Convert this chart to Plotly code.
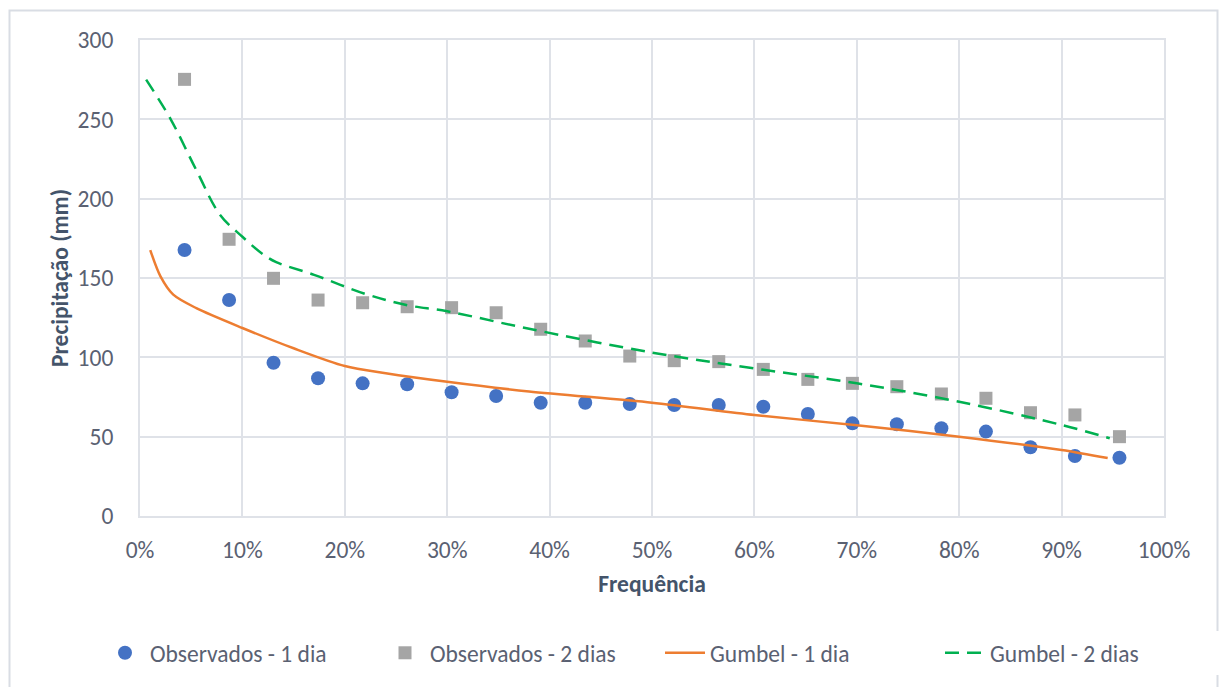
import plotly.graph_objects as go

# Plotting positions (k / (n + 1)) for the 22 observed annual maxima
freq_obs = [0.0435, 0.0870, 0.1304, 0.1739, 0.2174, 0.2609, 0.3043, 0.3478,
            0.3913, 0.4348, 0.4783, 0.5217, 0.5652, 0.6087, 0.6522, 0.6957,
            0.7391, 0.7826, 0.8261, 0.8696, 0.9130, 0.9565]

obs_1dia = [167.6, 136.1, 96.6, 86.8, 83.6, 83.0, 78.0, 75.6, 71.4, 71.4, 70.6,
            70.0, 70.0, 68.9, 64.3, 58.4, 57.8, 55.3, 53.2, 43.3, 37.8, 36.7]
obs_2dias = [275.2, 174.4, 149.8, 136.1, 134.4, 131.9, 131.3, 128.1, 117.7, 110.3,
             100.8, 97.9, 97.3, 92.4, 86.1, 83.6, 81.5, 76.9, 74.2, 65.1, 63.7, 50.0]

# Fitted Gumbel curves
gumbel1_freq = [0.010, 0.020, 0.0325, 0.055, 0.10, 0.15, 0.20, 0.24, 0.30, 0.38,
                0.50, 0.60, 0.70, 0.80, 0.90, 0.945]
gumbel1_vals = [167.6, 151.0, 139.5, 131.0, 118.5, 105.7, 94.5, 90.0, 84.6, 78.5,
                71.4, 63.7, 57.2, 50.0, 41.6, 36.5]

gumbel2_freq = [0.006, 0.030, 0.055, 0.078, 0.10, 0.12, 0.133, 0.17, 0.22, 0.26,
                0.30, 0.38, 0.50, 0.60, 0.70, 0.80, 0.90, 0.947]
gumbel2_vals = [275.0, 250.0, 218.0, 190.0, 176.0, 165.0, 160.0, 152.0, 140.0, 133.0,
                129.0, 118.0, 103.0, 93.0, 83.6, 72.0, 57.4, 49.0]

x_ticks = [0, 0.1, 0.2, 0.3, 0.4, 0.5, 0.6, 0.7, 0.8, 0.9, 1.0]
x_tick_labels = ["0%", "10%", "20%", "30%", "40%", "50%", "60%", "70%", "80%", "90%", "100%"]
y_ticks = [0, 50, 100, 150, 200, 250, 300]

FONT = "Carlito, 'Liberation Sans Narrow', 'DejaVu Sans Condensed', sans-serif"
FS = 23.5
TXT = "#5a6172"
TITLE = "#44546a"
GRID = "#dfe2e8"

fig = go.Figure()

fig.add_trace(go.Scatter(
    x=freq_obs, y=obs_1dia, mode="markers", name="Observados - 1 dia",
    marker=dict(symbol="circle", size=14, color="#4472C4",
                line=dict(width=0))))
fig.add_trace(go.Scatter(
    x=freq_obs, y=obs_2dias, mode="markers", name="Observados - 2 dias",
    marker=dict(symbol="square", size=13, color="#A5A5A5",
                line=dict(width=0))))
fig.add_trace(go.Scatter(
    x=gumbel1_freq, y=gumbel1_vals, mode="lines", name="Gumbel - 1 dia",
    line=dict(color="#ED7D31", width=2.5, shape="spline", smoothing=0.8)))
fig.add_trace(go.Scatter(
    x=gumbel2_freq, y=gumbel2_vals, mode="lines", name="Gumbel - 2 dias",
    line=dict(color="#00B050", width=2.5, dash="14px,8px", shape="spline",
              smoothing=1.0)))

L, R, T, B = 140, 56, 40, 171
W, H = 1220, 687
pw, ph = W - L - R, H - T - B

def px_x(p):
    return (p - L) / pw

def px_y(p):
    return (H - B - p) / ph

# Outer chart frame
fig.add_shape(type="rect", xref="paper", yref="paper",
              x0=px_x(9.5), x1=px_x(1217.5), y0=px_y(700), y1=px_y(10.5),
              line=dict(color="#d9dde4", width=2), fillcolor="rgba(0,0,0,0)",
              layer="below")

fig.update_layout(
    width=W, height=H,
    margin=dict(l=L, r=R, t=T, b=B),
    paper_bgcolor="white", plot_bgcolor="white",
    font=dict(family=FONT, size=FS, color=TXT),
    showlegend=True,
    legend=dict(orientation="h", x=px_x(125), xanchor="left", y=px_y(653),
                yanchor="middle", font=dict(family=FONT, size=FS, color=TXT),
                itemwidth=40, tracegroupgap=0,
                entrywidth=225, entrywidthmode="pixels"),
    xaxis=dict(range=[0, 1], tickvals=x_ticks, ticktext=x_tick_labels,
               showgrid=True, gridcolor=GRID, gridwidth=2,
               showline=True, linecolor=GRID, linewidth=2, mirror=True,
               zeroline=False, ticks="", ticklabelstandoff=12,
               title=dict(text="<b>Frequência</b>", standoff=12,
                          font=dict(family=FONT, size=FS, color=TITLE))),
    yaxis=dict(range=[0, 300], tickvals=y_ticks,
               showgrid=True, gridcolor=GRID, gridwidth=2,
               showline=True, linecolor=GRID, linewidth=2, mirror=True,
               zeroline=False, ticks="", ticklabelstandoff=20,
               title=dict(text="<b>Precipitação (mm)</b>", standoff=2,
                          font=dict(family=FONT, size=FS, color=TITLE))),
)

fig.write_html("out.html")
